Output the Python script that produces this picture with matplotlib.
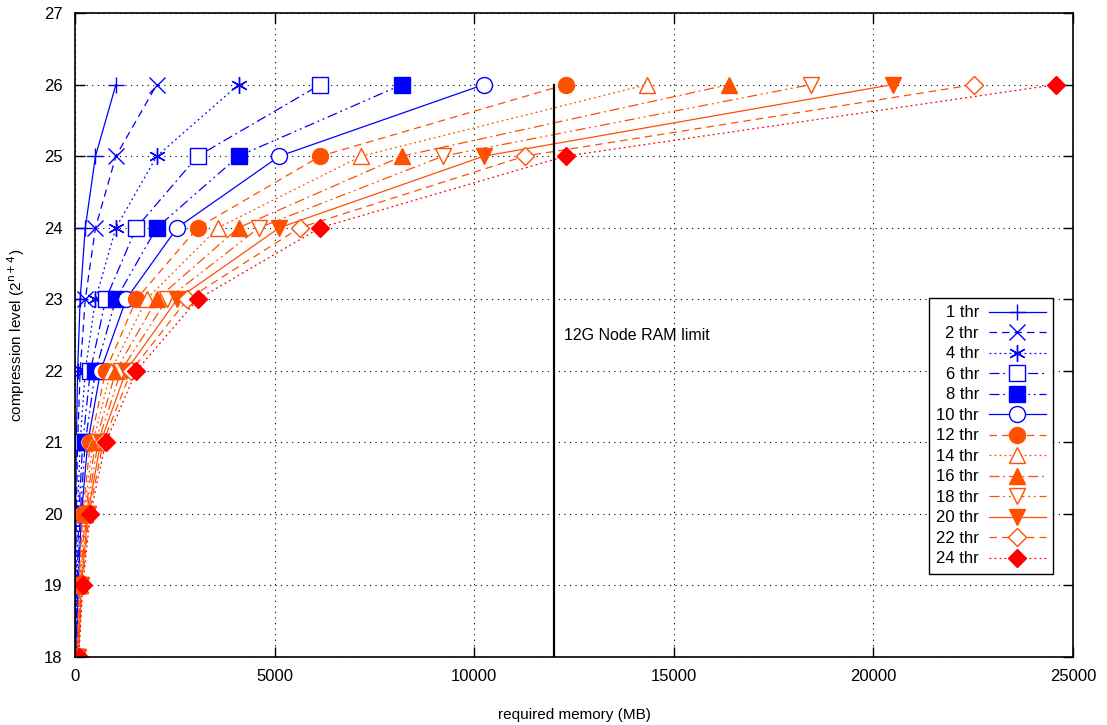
import matplotlib
matplotlib.use("Agg")
import matplotlib.pyplot as plt

# compression levels (y) and memory per thread count (MB)
levels = [18, 19, 20, 21, 22, 23, 24, 25, 26]

mem_1 = [4, 8, 16, 32, 64, 128, 256, 512, 1024]
mem_2 = [8, 16, 32, 64, 128, 256, 512, 1024, 2048]
mem_4 = [16, 32, 64, 128, 256, 512, 1024, 2048, 4096]
mem_6 = [24, 48, 96, 192, 384, 768, 1536, 3072, 6144]
mem_8 = [32, 64, 128, 256, 512, 1024, 2048, 4096, 8192]
mem_10 = [40, 80, 160, 320, 640, 1280, 2560, 5120, 10240]
mem_12 = [48, 96, 192, 384, 768, 1536, 3072, 6144, 12288]
mem_14 = [56, 112, 224, 448, 896, 1792, 3584, 7168, 14336]
mem_16 = [64, 128, 256, 512, 1024, 2048, 4096, 8192, 16384]
mem_18 = [72, 144, 288, 576, 1152, 2304, 4608, 9216, 18432]
mem_20 = [80, 160, 320, 640, 1280, 2560, 5120, 10240, 20480]
mem_22 = [88, 176, 352, 704, 1408, 2816, 5632, 11264, 22528]
mem_24 = [96, 192, 384, 768, 1536, 3072, 6144, 12288, 24576]

labels = ["1 thr", "2 thr", "4 thr", "6 thr", "8 thr", "10 thr", "12 thr",
          "14 thr", "16 thr", "18 thr", "20 thr", "22 thr", "24 thr"]
series = [mem_1, mem_2, mem_4, mem_6, mem_8, mem_10, mem_12,
          mem_14, mem_16, mem_18, mem_20, mem_22, mem_24]

ram_limit = 12000  # MB

plt.rcParams['font.family'] = ['Liberation Sans', 'DejaVu Sans']

blue = "#0000ff"
orange = "#ff5000"
red = "#ff0000"

# gnuplot-ish styles: (color, linestyle, marker, filled)
solid = '-'
dashed = (0, (6, 4))
dotted = (0, (1.5, 2.5))
dashdot = (0, (8, 3, 1.5, 3))
dashdotdot = (0, (8, 3, 1.5, 3, 1.5, 3))
asterisk = (6, 2, 0)

styles = [
    (blue, solid, '+', True),
    (blue, dashed, 'x', True),
    (blue, dotted, asterisk, True),
    (blue, dashdot, 's', False),
    (blue, dashdotdot, 's', True),
    (blue, solid, 'o', False),
    (orange, dashed, 'o', True),
    (orange, dotted, '^', False),
    (orange, dashdot, '^', True),
    (orange, dashdotdot, 'v', False),
    (orange, solid, 'v', True),
    (orange, dashed, 'D', False),
    (red, dotted, 'D', True),
]

fig = plt.figure(figsize=(11.07, 7.25), dpi=100)
ax = fig.add_axes([0.0678, 0.0938, 0.9015, 0.8882])

for mem, lab, (c, ls, mk, filled) in zip(series, labels, styles):
    ms = 12 if mk in ('+', 'x', asterisk) else 11.5
    if mk == 'D':
        ms = 9
    ax.plot(mem, levels, color=c, linestyle=ls, linewidth=0.9,
            marker=mk, markersize=ms, markeredgewidth=1.0,
            markerfacecolor=c if filled else 'white', markeredgecolor=c,
            label=lab)

ax.plot([ram_limit, ram_limit], [levels[0], levels[-1]], color='black',
        linewidth=1.6, zorder=3)
ax.text(ram_limit + 250, 22.5, "12G Node RAM limit", fontsize=11.5,
        va='center', ha='left')

ax.set_xlim(0, 25000)
ax.set_ylim(18, 27)
ax.set_xticks([0, 5000, 10000, 15000, 20000, 25000])
ax.set_yticks(range(18, 28))
ax.tick_params(direction='in', length=7, width=1, top=True, right=True,
               labelsize=12, pad=9)
ax.grid(True, color='black', linestyle=(0, (1, 4)), linewidth=0.8)
ax.set_axisbelow(True)
for sp in ax.spines.values():
    sp.set_linewidth(1.2)

ax.set_xlabel("required memory (MB)", fontsize=11, labelpad=17)
ax.set_ylabel(r"compression level (2$^{\mathrm{n+4}}$)", fontsize=11,
              labelpad=12)

leg = ax.legend(loc='upper right', bbox_to_anchor=(0.98, 0.5575),
                borderaxespad=0, markerfirst=False, fontsize=12,
                handlelength=3.4, labelspacing=0.33, borderpad=0.45,
                handletextpad=0.6, fancybox=False, framealpha=1,
                edgecolor='black')
leg.get_frame().set_linewidth(1.0)
leg._legend_box.align = 'right'

fig.savefig("out.png", dpi=100)
